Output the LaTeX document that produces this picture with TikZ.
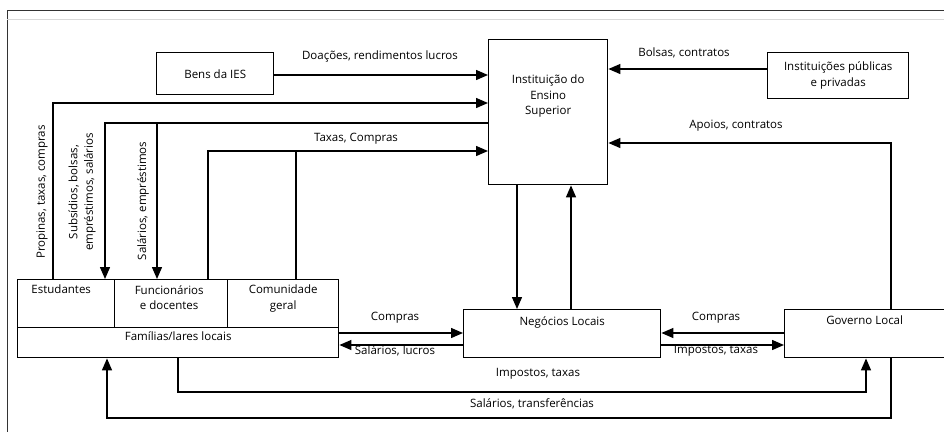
\documentclass[tikz,border=0pt]{standalone}
\usepackage{fontspec}
\setmainfont{Open Sans}
\usetikzlibrary{arrows.meta}
\begin{document}
\begin{tikzpicture}[x=1pt,y=-1pt,
  every node/.style={font=\fontsize{11.5}{15.5}\selectfont},
  box/.style={draw,line width=1.4pt,inner sep=0pt,anchor=north west,align=center},
  lbl/.style={inner sep=1pt,align=center},
  intext/.style={inner sep=0pt,align=center,anchor=north},
  flow/.style={line width=1.4pt},
  arr/.style={flow,-{Triangle[length=12pt,width=10pt]}},
  frame/.style={line width=0.8pt,draw=black!80}]
\useasboundingbox (0,0) rectangle (944,432);
% page frame
\draw[frame] (944,10) -- (7,10) -- (7,432);
\draw[line width=0.6pt,black!15] (7,19) -- (944,19);

% boxes
\node[box,minimum width=117pt,minimum height=42pt] (bens) at (156,52) {Bens da IES};
\node[box,minimum width=119pt,minimum height=145pt,
      label={[intext,yshift=-36pt]north:Instituição do\\Ensino\\Superior}] (ies) at (488,39) {};
\node[box,minimum width=141pt,minimum height=46pt] (inst) at (767,52) {Instituições públicas\\e privadas};
\node[box,minimum width=97pt,minimum height=48pt,
      label={[intext,yshift=-6pt,xshift=-5pt]north:Estudantes}] (est) at (17,279) {};
\node[box,minimum width=113pt,minimum height=48pt,
      label={[intext,yshift=-6pt,xshift=-2pt]north:Funcionários\\e docentes}] (fun) at (114,279) {};
\node[box,minimum width=111pt,minimum height=48pt,
      label={[intext,yshift=-6pt]north:Comunidade\\geral}] (com) at (227,279) {};
\node[box,minimum width=321pt,minimum height=30pt,
      label={[intext,yshift=-4pt]north:Famílias/lares locais}] (fam) at (17,327) {};
\node[box,minimum width=197pt,minimum height=48pt,
      label={[intext,yshift=-7pt]north:Negócios Locais}] (neg) at (463,309) {};
\node[box,minimum width=160pt,minimum height=48pt,
      label={[intext,yshift=-7pt]north:Governo Local}] (gov) at (784,309) {};

% branch points on the lower boxes
\coordinate (pr) at (est.north west -| 53,0);
\coordinate (sbE) at (est.north west -| 105,0);
\coordinate (sbF) at (fun.north west -| 157,0);
\coordinate (txF) at (fun.north east -| 208,0);
\coordinate (txC) at (com.north -| 296,0);
\coordinate (down) at (ies.south -| 517,0);
\coordinate (up) at (neg.north -| 571,0);
\coordinate (ap) at (gov.north -| 891,0);
\coordinate (itF) at (fam.south -| 178,0);
\coordinate (itG) at (gov.south -| 866,0);
\coordinate (stG) at (gov.south -| 891,0);
\coordinate (stF) at (fam.south -| 107,0);

% flows into the institution
\draw[arr] (bens.east |- 0,75) -- (ies.west |- 0,75);
\draw[arr] (pr) |- (ies.west |- 0,103);
\draw[arr] (ies.west |- 0,123) -| (sbE);
\draw[arr] (sbF |- 0,123) -- (sbF);
\draw[arr] (txF) |- (ies.west |- 0,151);
\draw[flow] (txC) -- (txC |- 0,151);
\draw[arr] (inst.west |- 0,69) -- (ies.east |- 0,69);
\draw[arr] (ap) |- (ies.east |- 0,143);
\draw[arr] (down) -- (down |- neg.north);
\draw[arr] (up) -- (up |- ies.south);

% flows between households, businesses and government
\draw[arr] (fam.east |- 0,333) -- (neg.west |- 0,333);
\draw[arr] (neg.west |- 0,345) -- (fam.east |- 0,345);
\draw[arr] (gov.west |- 0,333) -- (neg.east |- 0,333);
\draw[arr] (neg.east |- 0,345) -- (gov.west |- 0,345);
\draw[arr] (itF) |- (itG |- 0,392) -- (itG);
\draw[arr] (stG) |- (stF |- 0,418) -- (stF);

% flow labels
\node[lbl] (l1) at (380,57) {Doações, rendimentos lucros};
\node[lbl] (l2) at (356,139) {Taxas, Compras};
\node[lbl] (l3) at (684,53) {Bolsas, contratos};
\node[lbl] (l4) at (736,126) {Apoios, contratos};
\node[lbl] (l5) at (395,318) {Compras};
\node[lbl] (l6) at (395,351) {Salários, lucros};
\node[lbl] (l7) at (716,318) {Compras};
\node[lbl] (l8) at (716,351) {Impostos, taxas};
\node[lbl] (l9) at (538,374) {Impostos, taxas};
\node[lbl] (l10) at (532,404) {Salários, transferências};
\node[lbl,rotate=90] (l11) at (42,192) {Propinas, taxas, compras};
\node[lbl,rotate=90] (l12) at (82,192) {Subsídios, bolsas,\\empréstimos, salários};
\node[lbl,rotate=90] (l13) at (143,201) {Salários, empréstimos};
\end{tikzpicture}
\end{document}
